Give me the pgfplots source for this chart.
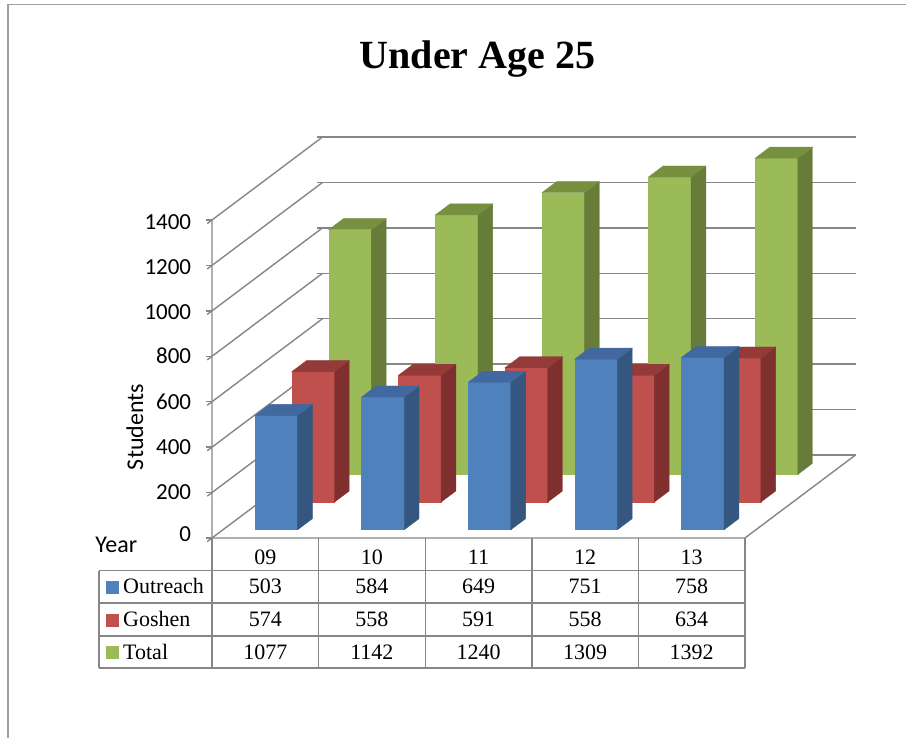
\documentclass[border=0pt]{standalone}
\usepackage{fontspec}
\setmainfont{Liberation Serif}
\newfontfamily\calibri{Carlito}
\usepackage{pgfplots}
\usepackage{pgfplotstable}
\pgfplotsset{compat=1.18}

\definecolor{gridc}{HTML}{868686}
\definecolor{outF}{HTML}{4F81BD}
\definecolor{outS}{HTML}{35567F}
\definecolor{outT}{HTML}{41689F}
\definecolor{gosF}{HTML}{C0504D}
\definecolor{gosS}{HTML}{7F302E}
\definecolor{gosT}{HTML}{943A38}
\definecolor{totF}{HTML}{9BBB59}
\definecolor{totS}{HTML}{677C38}
\definecolor{totT}{HTML}{76903F}

\pgfplotstableread{
year outreach goshen total
09 503 574 1077
10 584 558 1142
11 649 591 1240
12 751 558 1309
13 758 634 1392
}\enroll

% one bar: x centre, depth centre, height, front/side/top colours
\newcommand{\cuboid}[6]{%
  \pgfmathsetmacro\cxl{#1-0.2}\pgfmathsetmacro\cxr{#1+0.2}%
  \pgfmathsetmacro\cyf{#2-0.2}\pgfmathsetmacro\cyb{#2+0.2}%
  \addplot3[fill=#4, draw=#4, line width=0.2pt] coordinates
    {(\cxl,\cyf,0) (\cxr,\cyf,0) (\cxr,\cyf,#3) (\cxl,\cyf,#3)} -- cycle;
  \addplot3[fill=#5, draw=#5, line width=0.2pt] coordinates
    {(\cxr,\cyf,0) (\cxr,\cyb,0) (\cxr,\cyb,#3) (\cxr,\cyf,#3)} -- cycle;
  \addplot3[fill=#6, draw=#6, line width=0.2pt] coordinates
    {(\cxl,\cyf,#3) (\cxr,\cyf,#3) (\cxr,\cyb,#3) (\cxl,\cyb,#3)} -- cycle;
}

% one row of bars from a column of the table
\newcommand{\barrow}[5]{%
  \pgfplotsforeachungrouped \i in {0,...,4}{%
    \pgfmathsetmacro\cx{\i+0.5}%
    \pgfplotstablegetelem{\i}{#1}\of\enroll
    \let\h\pgfplotsretval
    \cuboid{\cx}{#2}{\h}{#3}{#4}{#5}%
  }%
}

\begin{document}
\begin{tikzpicture}
\begin{axis}[
    x={(53.3pt,0pt)},
    y={(18.42pt,13.83pt)},
    z={(0pt,0.113571pt)},
    xmin=0, xmax=5,
    ymin=0, ymax=3,
    zmin=0, zmax=1400,
    xtick=\empty, ytick=\empty,
    ztick={0,200,...,1400},
    zmajorgrids,
    major grid style={gridc, line width=0.7pt},
    axis line style={draw=none},
    ztick pos=left,
    tick align=outside,
    major tick length=3pt,
    tick style={gridc, line width=0.7pt},
    ticklabel style={font=\calibri\fontsize{11.5}{13}\selectfont},
    zticklabel style={xshift=-4.5pt, yshift=6pt},
    /pgf/number format/assume math mode=true,
    /pgf/number format/1000 sep={},
    clip=false,
]
\addplot3[gridc, line width=0.7pt] coordinates
    {(0,0,1400) (0,0,0) (5,0,0) (5,3,0)};

\barrow{total}{2.5}{totF}{totS}{totT}
\barrow{goshen}{1.5}{gosF}{gosS}{gosT}
\barrow{outreach}{0.5}{outF}{outS}{outT}

\coordinate (O) at (axis cs:0,0,0);
\end{axis}

\begin{scope}[shift={(O)}]
  % chart frame
  \draw[gray!75, line width=0.8pt] (-102pt,-100pt) -- (-102pt,266.75pt) -- (347pt,266.75pt);
  \node[anchor=base, inner sep=0pt, font=\bfseries\fontsize{20}{24}\selectfont]
    at (132.75pt,234.5pt) {Under Age 25};
  \node[rotate=90, inner sep=0pt, font=\calibri\fontsize{12}{14}\selectfont]
    at (-38.5pt,55.5pt) {Students};
  \node[anchor=base west, inner sep=0pt, font=\calibri\fontsize{12}{14}\selectfont]
    at (-58.5pt,-7.5pt) {Year};

  % data table
  \foreach \k in {0,...,5}{
    \draw[gridc, line width=0.7pt] (53.3pt*\k,0pt) -- (53.3pt*\k,-65pt);
  }
  \draw[gridc, line width=0.7pt] (-56.5pt,-16.35pt) -- (-56.5pt,-65pt);
  \foreach \r in {-16.35,-32.5,-49,-65}{
    \draw[gridc, line width=0.7pt] (-56.5pt,\r pt) -- (266.5pt,\r pt);
  }
  \foreach \k in {0,...,4}{
    \pgfplotstablegetelem{\k}{year}\of\enroll
    \node[anchor=base, inner sep=0pt, font=\fontsize{11}{13}\selectfont]
      at (53.3pt*\k+26.65pt,-13.5pt) {\pgfplotsretval};
    \pgfplotstablegetelem{\k}{outreach}\of\enroll
    \node[anchor=base, inner sep=0pt, font=\fontsize{11}{13}\selectfont]
      at (53.3pt*\k+26.65pt,-28pt) {\pgfplotsretval};
    \pgfplotstablegetelem{\k}{goshen}\of\enroll
    \node[anchor=base, inner sep=0pt, font=\fontsize{11}{13}\selectfont]
      at (53.3pt*\k+26.65pt,-44.3pt) {\pgfplotsretval};
    \pgfplotstablegetelem{\k}{total}\of\enroll
    \node[anchor=base, inner sep=0pt, font=\fontsize{11}{13}\selectfont]
      at (53.3pt*\k+26.65pt,-60.7pt) {\pgfplotsretval};
  }
  \fill[outF] (-53pt,-28pt) rectangle (-46.5pt,-21.5pt);
  \fill[gosF] (-53pt,-44.3pt) rectangle (-46.5pt,-37.8pt);
  \fill[totF] (-53pt,-60.7pt) rectangle (-46.5pt,-54.2pt);
  \node[anchor=base west, inner sep=0pt, font=\fontsize{11}{13}\selectfont] at (-44.6pt,-28pt) {Outreach};
  \node[anchor=base west, inner sep=0pt, font=\fontsize{11}{13}\selectfont] at (-44.6pt,-44.3pt) {Goshen};
  \node[anchor=base west, inner sep=0pt, font=\fontsize{11}{13}\selectfont] at (-44.6pt,-60.7pt) {Total};

  \pgfresetboundingbox
  \useasboundingbox (-106pt,-100pt) rectangle (347pt,269pt);
\end{scope}
\end{tikzpicture}
\end{document}
